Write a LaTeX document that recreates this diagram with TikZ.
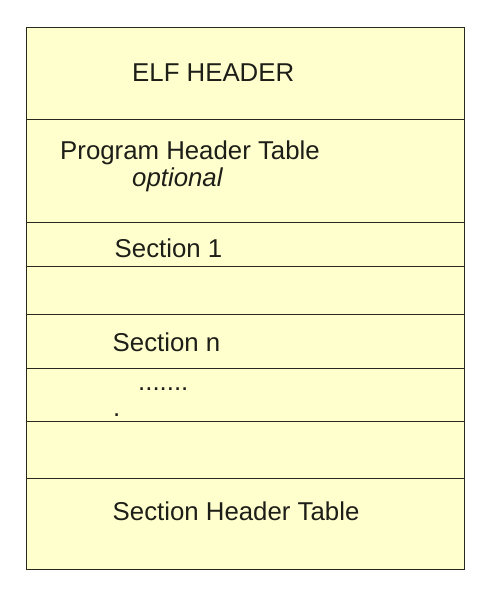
\documentclass[tikz,border=0pt]{standalone}
\usepackage{fontspec}
\setmainfont{Liberation Sans}
\definecolor{elffill}{RGB}{255,255,206}
\definecolor{elfline}{RGB}{40,40,30}
\definecolor{elftext}{RGB}{30,30,25}
\tikzset{
    lbl/.style={anchor=base west, inner sep=0pt, text=elftext,
        font=\fontsize{25.8}{30}\selectfont}
}
\begin{document}
\begin{tikzpicture}[x=1pt,y=-1pt]
            \useasboundingbox (0,0) rectangle (498,590);
            \draw [elfline, fill=elffill, line width=1pt] (26,27) rectangle (464,569);
            \foreach \y in {119,222,266,314,368,421,478}
                \draw [elfline, line width=1pt] (26,\y) -- (464,\y);
            \node [lbl] (elf) at (132,81.5) {ELF HEADER};
            \node [lbl] (pht) at (60,159) {Program Header Table};
            \node [lbl, font=\fontsize{25.8}{30}\selectfont\itshape] (opt) at (132,186) {optional};
            \node [lbl] (sec1) at (114.5,257.5) {Section 1};
            \node [lbl] (secn) at (112.5,351.5) {Section n};
            \node [lbl] (dots) at (138,390.5) {.......};
            \node [lbl] (dot) at (113,416) {.};
            \node [lbl] (sht) at (112.5,520) {Section Header Table};
        \end{tikzpicture}
\end{document}
